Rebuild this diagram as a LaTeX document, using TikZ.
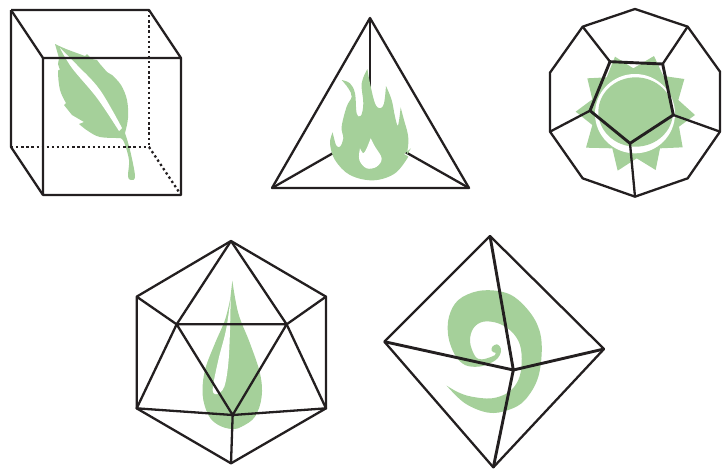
\documentclass[tikz,border=0pt]{standalone}
\usetikzlibrary{calc}
\definecolor{edgeblack}{HTML}{231F20}
\definecolor{elemgreen}{HTML}{A5D09A}
\tikzset{
    edgeline/.style={draw=edgeblack, line width=2.3pt, line join=round},
    heavyline/.style={draw=edgeblack, line width=2.9pt, line join=round},
    hiddenline/.style={draw=edgeblack, line width=2.3pt, dash pattern=on 2.3pt off 2.8pt},
    elemfill/.style={fill=elemgreen, draw=none},
    holefill/.style={fill=white, draw=none}
}
\begin{document}
\begin{tikzpicture}[x=1pt,y=-1pt]
    \useasboundingbox (0,0) rectangle (723,469);

    % cube and leaf
    \coordinate (btl) at (11,10);
    \coordinate (btr) at (149,10);
    \coordinate (bbl) at (11,147);
    \coordinate (bbr) at (149,147);
    \coordinate (ftl) at (43,58);
    \coordinate (ftr) at (181,58);
    \coordinate (fbl) at (43,195);
    \coordinate (fbr) at (181,195);
    \fill[elemfill] plot[smooth,tension=.4] coordinates {(55,44) (66,49) (85,56)} -- (87,54) -- (92,59) -- (97,60) -- (100,64) -- (107,72) -- (112,75)
        -- plot[smooth,tension=.6] coordinates {(112,75) (121,85) (127,100) (128,118) (125,133)}
        -- plot[smooth,tension=.6] coordinates {(125,133) (130,150) (135,176) (131,180) (128,176) (129,160) (124,142) (120,138)}
        -- plot[smooth,tension=.6] coordinates {(120,138) (100,137) (88,131) (79,124)}
        -- (84,122) -- (72,115) -- (64,105) -- (66,103)
        -- plot[smooth,tension=.6] coordinates {(66,103) (60,90) (58,72) (60,70)}
        -- (58,64) -- (59,58) -- cycle;
    \fill[holefill] plot[smooth,tension=.6] coordinates {(60,48) (77,65) (100,90) (122,128)} -- (119,131)
        -- plot[smooth,tension=.6] coordinates {(119,131) (97,98) (72,68) (60,48)} -- cycle;
    \draw[hiddenline] (bbl) -- (bbr);
    \draw[hiddenline] (btr) -- (bbr);
    \draw[hiddenline] (bbr) -- (fbr);
    \draw[edgeline] (btl) -- (btr) -- (ftr) -- (fbr) -- (fbl) -- (ftl) -- (ftr);
    \draw[edgeline] (btl) -- (ftl);
    \draw[edgeline] (btl) -- (bbl) -- (fbl);

    % tetrahedron and flame
    \coordinate (ttop) at (370,18);
    \coordinate (tleft) at (272,188);
    \coordinate (tright) at (469,188);
    \coordinate (tmid) at (370,132);
    \draw[edgeline] (ttop) -- (tleft) -- (tright) -- cycle;
    \draw[edgeline] (ttop) -- (tmid);
    \draw[edgeline] (tleft) -- (tmid);
    \draw[edgeline] (tright) -- (tmid);
    \begin{scope}[shift={(260,0)},scale=1/3]
        \fill[elemfill] plot[smooth,tension=.6] coordinates {(322,207) (330,250) (345,310) (360,325) (372,310) (378,258)}
            -- plot[smooth,tension=.6] coordinates {(378,258) (395,300) (405,350) (414,376) (422,322)}
            -- plot[smooth,tension=.6] coordinates {(422,322) (432,360) (443,400) (445,430) (440,465)}
            -- (453,445) -- (432,462)
            -- plot[smooth,tension=.6] coordinates {(445,470) (405,520) (340,541) (270,525) (225,480) (210,430) (218,397)}
            -- plot[smooth,tension=.6] coordinates {(218,397) (228,435) (240,440) (250,415) (245,380) (260,320) (275,290) (265,265) (245,240)}
            -- plot[smooth,tension=.6] coordinates {(245,240) (270,250) (285,280) (290,340) (303,347) (310,310) (305,250) (322,207)} -- cycle;
        \fill[holefill] plot[smooth,tension=.6] coordinates {(332,415) (345,440) (365,475) (350,500) (320,505) (298,480) (300,445)}
            -- plot[smooth,tension=.6] coordinates {(300,445) (310,460) (320,445) (332,415)} -- cycle;
    \end{scope}

    % dodecahedron and sun
    \begin{scope}[shift={(535,0)},scale=1/3]
        \fill[elemfill] (240,170) -- (295,205) -- (357,168) -- (385,228) -- (448,237) -- (430,300) -- (480,345) -- (432,380) -- (443,442)
            -- (375,445) -- (362,510) -- (305,475) -- (248,512) -- (232,445) -- (153,443) -- (172,375) -- (122,335) -- (172,298) -- (157,235) -- (215,232) -- cycle;
        \fill[holefill] (300,341) ellipse (120 and 119);
        \fill[elemfill] (302,336) ellipse (112 and 104);
        \foreach \pname/\px/\py in {o1/300/27,o2/458/80,o3/555/215,o4/555/395,o5/458/535,o6/300/590,o7/143/535,o8/45/395,o9/45/218,o10/143/80,
            p1/225/185,p2/383/192,p3/415/345,p4/285/430,p5/165/332}
            \coordinate (\pname) at (\px,\py);
        \draw[edgeline] (o1) -- (o2) -- (o3) -- (o4) -- (o5) -- (o6) -- (o7) -- (o8) -- (o9) -- (o10) -- cycle;
        \draw[heavyline] (p1) -- (p2) -- (p3) -- (p4) -- (p5) -- cycle;
        \draw[edgeline] (o10) -- (p1);
        \draw[edgeline] (o2) -- (p2);
        \draw[edgeline] (o4) -- (p3);
        \draw[edgeline] (o6) -- (p4);
        \draw[edgeline] (o8) -- (p5);
    \end{scope}

    % icosahedron and drop
    \begin{scope}[shift={(125,230)},scale=1/3]
        \fill[elemfill] plot[smooth,tension=.6] coordinates {(322,152) (340,250) (375,340) (405,430) (410,500) (390,560) (350,590) (320,597) (280,585) (250,555) (233,495) (240,420) (270,340) (300,270) (316,205)} -- cycle;
        \fill[holefill] plot[smooth,tension=.6] coordinates {(317,205) (303,300) (280,390) (263,480) (278,492)}
            -- plot[smooth,tension=.6] coordinates {(278,492) (298,470) (310,400) (315,300) (317,205)} -- cycle;
        \coordinate (itop) at (318,33);
        \coordinate (iul) at (35,200);
        \coordinate (iur) at (603,200);
        \coordinate (ill) at (35,535);
        \coordinate (ilr) at (603,535);
        \coordinate (ibot) at (318,700);
        \coordinate (ia) at (155,283);
        \coordinate (ib) at (485,283);
        \coordinate (ic) at (323,555);
        \draw[edgeline] (itop) -- (iur) -- (ilr) -- (ibot) -- (ill) -- (iul) -- cycle;
        \draw[edgeline] (ia) -- (ib) -- (ic) -- cycle;
        \draw[edgeline] (ia) -- (itop) -- (ib);
        \draw[edgeline] (iul) -- (ia) -- (ill) -- (ic) -- (ilr) -- (ib) -- (iur);
        \draw[edgeline] (ic) -- (ibot);
    \end{scope}

    % octahedron and spiral
    \begin{scope}[shift={(375,230)},scale=1/3]
        \fill[elemfill] plot[smooth,tension=.6] coordinates {(215,467) (270,520) (340,548) (400,540) (450,510) (490,440) (500,340) (480,270) (430,210) (380,185) (310,183) (250,210) (222,260) (220,320) (240,375) (270,405) (310,410) (345,400) (368,385) (378,365) (375,350) (365,343) (352,350) (350,362) (358,368)}
            -- plot[smooth,tension=.6] coordinates {(358,368) (368,360) (362,352) (357,358) (362,372) (350,380) (320,388) (300,378) (285,335) (295,295) (325,275) (370,280) (410,305) (435,345) (440,400) (430,450) (400,487) (350,505) (290,500) (250,487) (215,467)} -- cycle;
        \coordinate (otop) at (345,18);
        \coordinate (oleft) at (28,335);
        \coordinate (oright) at (687,357);
        \coordinate (obot) at (355,712);
        \coordinate (omid) at (415,420);
        \draw[edgeline] (otop) -- (oright) -- (obot) -- (oleft) -- cycle;
        \draw[heavyline] (otop) -- (omid);
        \draw[heavyline] (oleft) -- (omid);
        \draw[heavyline] (oright) -- (omid);
        \draw[heavyline] (obot) -- (omid);
    \end{scope}
\end{tikzpicture}
\end{document}
